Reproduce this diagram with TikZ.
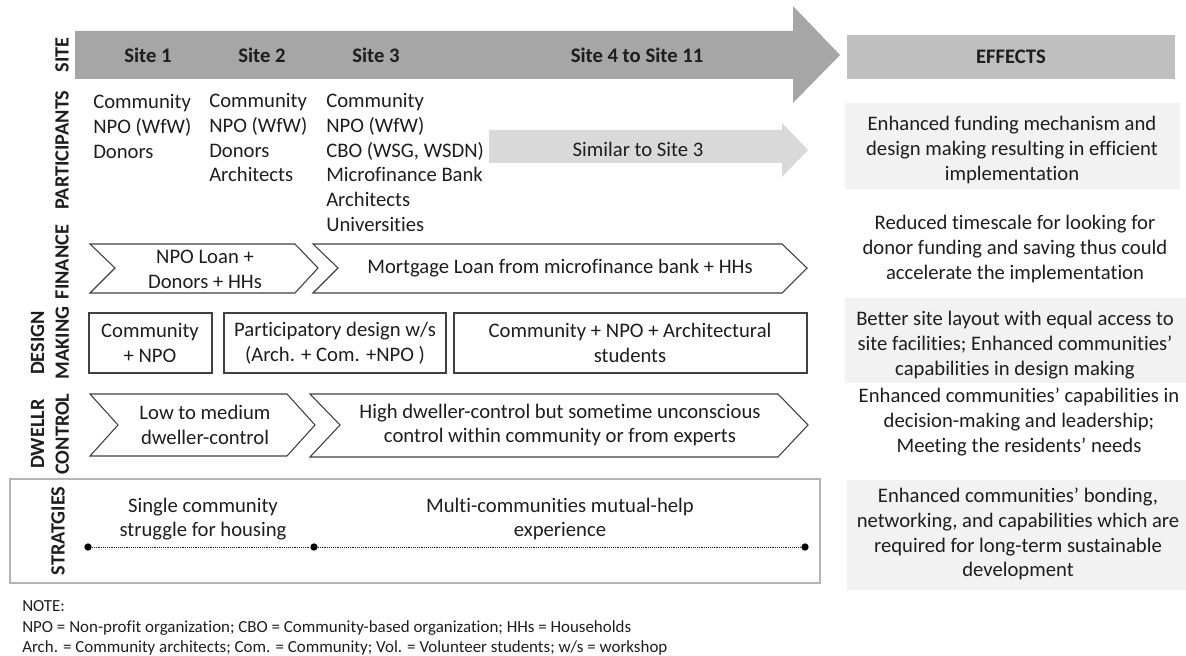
\documentclass[tikz,border=0pt]{standalone}
\usepackage{fontspec}
\setmainfont{Carlito}[Ligatures={NoCommon,NoContextual}]
\definecolor{ink}{HTML}{1E1E1E}
\definecolor{sitegray}{HTML}{A6A6A6}
\definecolor{headgray}{HTML}{BFBFBF}
\definecolor{similargray}{HTML}{D9D9D9}
\definecolor{effectfill}{HTML}{F2F2F2}
\definecolor{edgegray}{HTML}{404040}
\definecolor{framegray}{HTML}{B4B4B4}
\tikzset{
  body/.style={font=\fontsize{15.5}{18.6}\selectfont, text=ink, inner sep=0pt},
  bodyc/.style={body, align=center},
  bodyl/.style={body, align=left, anchor=north west},
  sitelabel/.style={font=\fontsize{15.5}{18}\selectfont\bfseries, text=ink, inner sep=0pt},
  rowlabel/.style={font=\fontsize{15.2}{18.6}\selectfont\bfseries, text=ink, inner sep=0pt, rotate=90, align=center},
  chevron/.style={draw=edgegray, line width=0.8pt, fill=white},
  designbox/.style={draw=edgegray, line width=0.8pt, fill=white},
  effectbox/.style={fill=effectfill},
  note/.style={font=\fontsize{12.7}{15}\selectfont, text=ink, inner sep=0pt, anchor=base west},
  stepdot/.style={circle, fill=black, inner sep=0pt, minimum size=5.5pt}
}
\begin{document}
\begin{tikzpicture}[x=0.75pt, y=-0.75pt]
\useasboundingbox (0,0) rectangle (1186,656);

% ---------- site arrow ----------
\fill[sitegray] (75,31) -- (793,31) -- (793,6) -- (840,55) -- (793,103) -- (793,79) -- (75,79) -- cycle;
\node[sitelabel] (s1) at (148,55) {Site 1};
\node[sitelabel] (s2) at (262,55) {Site 2};
\node[sitelabel] (s3) at (376,55) {Site 3};
\node[sitelabel] (s4) at (637,55) {Site 4 to Site 11};

% ---------- effects header ----------
\fill[headgray] (847,35) rectangle (1175,79);
\node[sitelabel] (eff) at (1011,57) {EFFECTS};

% ---------- row labels ----------
\node[rowlabel] (lsite) at (62,55) {SITE};
\node[rowlabel] (lpart) at (62,150) {PARTICIPANTS};
\node[rowlabel] (lfin) at (62,262) {FINANCE};
\node[rowlabel] (ldes) at (50,343) {DESIGN\\MAKING};
\node[rowlabel] (ldwl) at (50,434) {DWELLR\\CONTROL};
\node[rowlabel] (lstr) at (58,531) {STRATGIES};

% ---------- participants ----------
\node[bodyl] (p1) at (93,94) {Community\\NPO (WfW)\\Donors};
\node[bodyl] (p2) at (209,93) {Community\\NPO (WfW)\\Donors\\Architects};
\node[bodyl] (p3) at (326,93) {Community\\NPO (WfW)\\CBO (WSG, WSDN)\\Microfinance Bank\\Architects\\Universities};
\fill[similargray] (489,130) -- (782,130) -- (782,123) -- (808,150) -- (782,177) -- (782,163) -- (489,163) -- cycle;
\node[body] (p4) at (638,149) {Similar to Site 3};

% ---------- finance ----------
\draw[chevron] (90,244) -- (295,244) -- (318,268) -- (295,293) -- (90,293) -- (115,268) -- cycle;
\node[bodyc] (f1) at (205,269) {NPO Loan +\\Donors + HHs};
\draw[chevron] (313,244) -- (782,244) -- (807,268) -- (782,293) -- (313,293) -- (338,268) -- cycle;
\node[bodyc] (f2) at (560,268) {Mortgage Loan from microfinance bank + HHs};

% ---------- design making ----------
\draw[designbox] (89,313) rectangle (212,373);
\node[bodyc] (d1) at (150,343) {Community\\+ NPO};
\draw[designbox] (224,313) rectangle (446,373);
\node[bodyc] (d2) at (335,343) {Participatory design w/s\\(Arch. + Com. +NPO )};
\draw[designbox] (454,313) rectangle (807,373);
\node[bodyc] (d3) at (630,343) {Community + NPO + Architectural\\students};

% ---------- dweller control ----------
\draw[chevron] (90,394) -- (287,394) -- (315,425) -- (287,456) -- (90,456) -- (118,425) -- cycle;
\node[bodyc] (c1) at (205,425) {Low to medium\\dweller-control};
\draw[chevron] (310,394) -- (778,394) -- (808,425) -- (778,457) -- (310,457) -- (340,425) -- cycle;
\node[bodyc] (c2) at (560,425) {High dweller-control but sometime unconscious\\control within community or from experts};

% ---------- strategies ----------
\draw[framegray, line width=1.1pt] (10,479) rectangle (820,583);
\node[bodyc] (t1) at (203,519) {Single community\\struggle for housing};
\node[bodyc] (t2) at (560,519) {Multi-communities mutual-help\\experience};
\node[stepdot] (k1) at (88,547) {};
\node[stepdot] (k2) at (314,547) {};
\node[stepdot] (k3) at (805,547) {};
\draw[ink, densely dotted, line width=0.4pt] (k1) -- (k2) -- (k3);

% ---------- effects ----------
\fill[effectbox] (845,103) rectangle (1180,189);
\node[bodyc] (e1) at (1012,150) {Enhanced funding mechanism and\\design making resulting in efficient\\implementation};
\node[bodyc] (e2) at (1015,249) {Reduced timescale for looking for\\donor funding and saving thus could\\accelerate the implementation};
\fill[effectbox] (845,298) rectangle (1186,383);
\node[bodyc] (e3) at (1015,345) {Better site layout with equal access to\\site facilities; Enhanced communities’\\capabilities in design making};
\node[bodyc] (e4) at (1019,422) {Enhanced communities’ capabilities in\\decision-making and leadership;\\Meeting the residents’ needs};
\fill[effectbox] (847,480) rectangle (1186,590);
\node[bodyc] (e5) at (1018,534) {Enhanced communities’ bonding,\\networking, and capabilities which are\\required for long-term sustainable\\development};

% ---------- note ----------
\node[note] (n0) at (22,611) {NOTE:};
\node[note] (n1) at (22,632) {NPO = Non-profit organization; CBO = Community-based organization; HHs = Households};
\node[note] (n2) at (22,652) {Arch. = Community architects; Com. = Community; Vol. = Volunteer students; w/s = workshop};
\end{tikzpicture}
\end{document}
